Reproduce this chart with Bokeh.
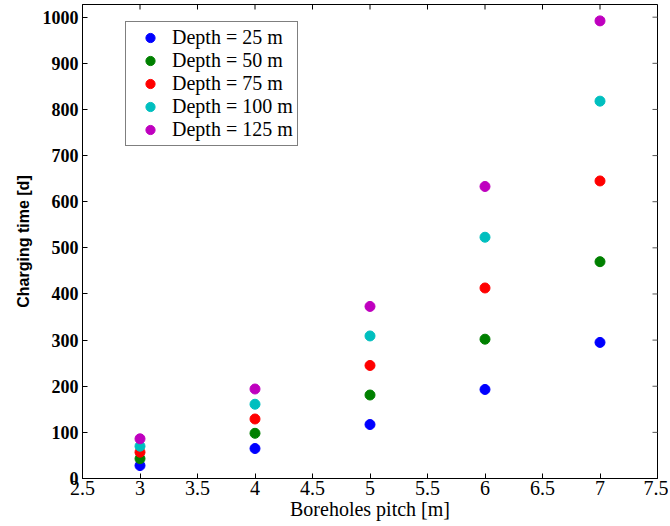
import math
from bokeh.plotting import figure
from bokeh.models import (ColumnDataSource, FixedTicker, NumeralTickFormatter,
                          Legend, LegendItem, Range1d)
from bokeh.embed import file_html
from bokeh.resources import INLINE

# ---- data ----
pitch = [3, 4, 5, 6, 7]
depth_25 = [28, 65, 117, 193, 295]
depth_50 = [43, 98, 181, 302, 470]
depth_75 = [57, 129, 245, 413, 645]
depth_100 = [70, 161, 309, 523, 818]
depth_125 = [86, 194, 373, 633, 992]

series_names = ["Depth = 25 m", "Depth = 50 m", "Depth = 75 m", "Depth = 100 m", "Depth = 125 m"]
series_values = [depth_25, depth_50, depth_75, depth_100, depth_125]
series_colors = ["#0000ff", "#008000", "#ff0000", "#00bfbf", "#bf00bf"]

x_ticks = [2.5, 3, 3.5, 4, 4.5, 5, 5.5, 6, 6.5, 7, 7.5]
y_ticks = [0, 100, 200, 300, 400, 500, 600, 700, 800, 900, 1000]

x_label = "Boreholes pitch [m]"
y_label = "Charging time [d]"

X0, X1 = 2.5, 7.5
Y0, Y1 = 0, 1027.5

W, H = 668, 524

p = figure(width=W, height=H, output_backend="svg", toolbar_location=None,
           x_range=Range1d(X0, X1), y_range=Range1d(Y0, Y1),
           min_border_left=82, min_border_right=W - 657, min_border_top=4,
           min_border_bottom=H - 478,
           background_fill_color="white", border_fill_color="white")
p.grid.visible = False
p.outline_line_color = "black"
p.outline_line_width = 1

serif = "Liberation Serif"

for ax in p.xaxis:
    ax.ticker = FixedTicker(ticks=x_ticks)
    ax.formatter = NumeralTickFormatter(format="0.[0]")
    ax.major_tick_in = 5
    ax.major_tick_out = 0
    ax.minor_tick_line_color = None
    ax.axis_line_color = "black"
    ax.major_tick_line_color = "black"
    ax.major_label_text_font = serif
    ax.major_label_text_font_size = "20px"
    ax.major_label_text_color = "black"
    ax.major_label_standoff = 2
    ax.axis_label = x_label
    ax.axis_label_text_font = serif
    ax.axis_label_text_font_size = "20px"
    ax.axis_label_text_font_style = "normal"
    ax.axis_label_text_color = "black"
    ax.axis_label_standoff = 0

for ax in p.yaxis:
    ax.ticker = FixedTicker(ticks=y_ticks)
    ax.major_tick_in = 5
    ax.major_tick_out = 0
    ax.minor_tick_line_color = None
    ax.axis_line_color = "black"
    ax.major_tick_line_color = "black"
    ax.major_label_text_font = serif
    ax.major_label_text_font_style = "bold"
    ax.major_label_text_font_size = "18px"
    ax.major_label_text_color = "black"
    ax.major_label_standoff = 4
    ax.axis_label = y_label
    ax.axis_label_text_font = "Liberation Sans"
    ax.axis_label_text_font_style = "bold"
    ax.axis_label_text_font_size = "16px"
    ax.axis_label_text_color = "black"
    ax.axis_label_standoff = 8

# mirrored inward tick marks on the top and right edges (half of each dash is clipped)
p.scatter(x=x_ticks, y=[Y1] * len(x_ticks), marker="dash", angle=math.pi / 2, size=10,
          line_color="black", line_width=1)
p.scatter(x=[X1] * len(y_ticks), y=y_ticks, marker="dash", size=10,
          line_color="#555555", line_width=1)

items = []
for name, vals, col in zip(series_names, series_values, series_colors):
    src = ColumnDataSource(dict(x=pitch, y=vals))
    r = p.scatter("x", "y", source=src, size=10, fill_color=col, line_color=col, marker="circle")
    items.append(LegendItem(label=name, renderers=[r]))

legend = Legend(items=items, location=(43, 332), border_line_color="black", border_line_width=1,
                background_fill_color="white", background_fill_alpha=1,
                label_text_font=serif, label_text_font_size="20px", label_text_color="black",
                glyph_width=40, glyph_height=23, label_height=23, spacing=0,
                padding=4, margin=0, label_standoff=2)
p.add_layout(legend, "center")

open("out.html", "w").write(file_html(p, INLINE))
